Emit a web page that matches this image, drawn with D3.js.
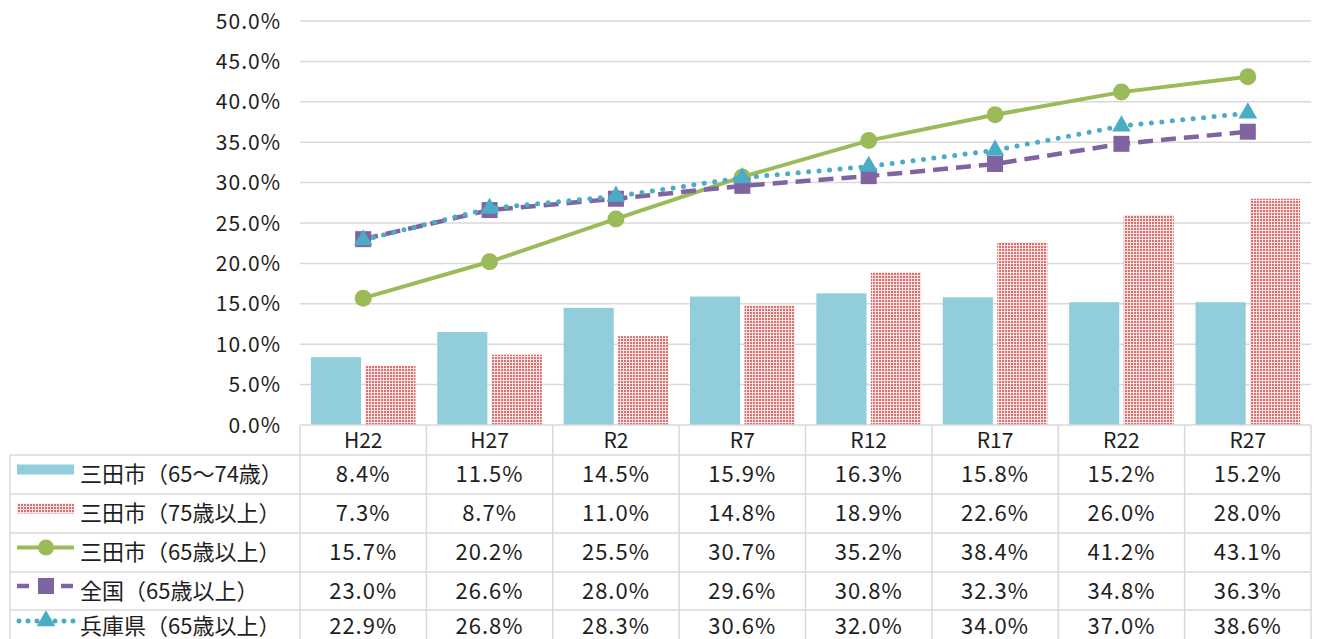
<!DOCTYPE html>
<html><head><meta charset="utf-8">
<script src="https://cdn.jsdelivr.net/npm/d3@7"></script>
<style>
html,body{margin:0;padding:0;background:#fff;}
text{font-family:"Noto Sans CJK JP","Noto Sans",sans-serif;fill:#1e1e1e;}
</style></head>
<body><svg id="c" width="1322" height="639"></svg>
<script>
const categories = ["H22","H27","R2","R7","R12","R17","R22","R27"];
const seriesNames = ["三田市（65～74歳）","三田市（75歳以上）","三田市（65歳以上）","全国（65歳以上）","兵庫県（65歳以上）"];
const sanda6574 = [8.4,11.5,14.5,15.9,16.3,15.8,15.2,15.2];
const sanda75 = [7.3,8.7,11.0,14.8,18.9,22.6,26.0,28.0];
const sanda65 = [15.7,20.2,25.5,30.7,35.2,38.4,41.2,43.1];
const zenkoku65 = [23.0,26.6,28.0,29.6,30.8,32.3,34.8,36.3];
const hyogo65 = [22.9,26.8,28.3,30.6,32.0,34.0,37.0,38.6];
const yTicks = [0,5,10,15,20,25,30,35,40,45,50];

const svg = d3.select("#c");
const L = 300, R = 1311, T = 21, B = 425;
const x = d3.scaleBand().domain(categories).range([L,R]);
const y = d3.scaleLinear().domain([0,50]).range([B,T]);
const xb = d3.scaleBand().domain([0,1]).range([0,x.bandwidth()]).paddingInner(0.08).paddingOuter(0.2);
const cx = c => x(c)+x.bandwidth()/2;

const defs = svg.append("defs");
const pat = defs.append("pattern").attr("id","dots").attr("patternUnits","userSpaceOnUse").attr("width",3).attr("height",3);
pat.append("rect").attr("width",3).attr("height",3).attr("fill","#f8e2e2");
pat.append("rect").attr("width",2).attr("height",2).attr("fill","#da7070");

// gridlines
svg.append("g").selectAll("line").data(yTicks.filter(d=>d>0)).join("line")
  .attr("x1",L).attr("x2",R).attr("y1",d=>y(d)).attr("y2",d=>y(d))
  .attr("stroke","#d9d9d9").attr("stroke-width",1.5);

// y axis labels
svg.append("g").selectAll("text").data(yTicks).join("text")
  .attr("x",281).attr("y",d=>y(d)).attr("dy","0.36em").attr("text-anchor","end")
  .attr("font-size",21).attr("letter-spacing",1).text(d=>d3.format(".1f")(d)+"%");

// bars
const colBlue = "#92cddc";
svg.append("g").selectAll("rect").data(categories).join("rect")
  .attr("x",(c)=>x(c)+xb(0)).attr("width",xb.bandwidth())
  .attr("y",(c,i)=>y(sanda6574[i])).attr("height",(c,i)=>B-y(sanda6574[i])).attr("fill",colBlue);
svg.append("g").selectAll("rect").data(categories).join("rect")
  .attr("x",(c)=>x(c)+xb(1)).attr("width",xb.bandwidth())
  .attr("y",(c,i)=>y(sanda75[i])).attr("height",(c,i)=>B-y(sanda75[i])).attr("fill","url(#dots)");

// lines
const line = d3.line().x((d,i)=>cx(categories[i])).y(d=>y(d));
const green="#9bbb59", purple="#8064a2", teal="#4bacc6";
svg.append("path").attr("d",line(sanda65)).attr("fill","none").attr("stroke",green).attr("stroke-width",4);
svg.append("g").selectAll("circle").data(sanda65).join("circle")
  .attr("cx",(d,i)=>cx(categories[i])).attr("cy",d=>y(d)).attr("r",8.5).attr("fill",green);

svg.append("path").attr("d",line(zenkoku65)).attr("fill","none").attr("stroke",purple).attr("stroke-width",4.5)
  .attr("stroke-dasharray","15,8");
svg.append("g").selectAll("rect").data(zenkoku65).join("rect")
  .attr("x",(d,i)=>cx(categories[i])-8).attr("y",d=>y(d)-8).attr("width",16).attr("height",16).attr("fill",purple);

svg.append("path").attr("d",line(hyogo65)).attr("fill","none").attr("stroke",teal).attr("stroke-width",5)
  .attr("stroke-linecap","round").attr("stroke-dasharray","0,10.5");
const tri = d3.symbol().type(d3.symbolTriangle).size(150);
svg.append("g").selectAll("path").data(hyogo65).join("path")
  .attr("transform",(d,i)=>`translate(${cx(categories[i])},${y(d)})`).attr("d",tri()).attr("fill",teal);

// table
const rowTop = [455,494,533,572,610,645];
const tg = svg.append("g");
const tl = "#d9d9d9";
tg.append("line").attr("x1",L).attr("x2",R).attr("y1",B).attr("y2",B).attr("stroke",tl).attr("stroke-width",1.5);
rowTop.slice(0,5).forEach(yy=>tg.append("line").attr("x1",10).attr("x2",R).attr("y1",yy).attr("y2",yy).attr("stroke",tl).attr("stroke-width",1.5));
tg.append("line").attr("x1",10).attr("x2",10).attr("y1",455).attr("y2",639).attr("stroke",tl).attr("stroke-width",1.5);
categories.forEach(c=>tg.append("line").attr("x1",x(c)).attr("x2",x(c)).attr("y1",B).attr("y2",639).attr("stroke",tl).attr("stroke-width",1.5));
tg.append("line").attr("x1",R).attr("x2",R).attr("y1",B).attr("y2",639).attr("stroke",tl).attr("stroke-width",1.5);

tg.selectAll("text.cat").data(categories).join("text").attr("class","cat")
  .attr("x",d=>cx(d)).attr("y",(B+455)/2).attr("dy","0.36em").attr("text-anchor","middle")
  .attr("font-size",21).text(d=>d);

const allSeries = [sanda6574,sanda75,sanda65,zenkoku65,hyogo65];
allSeries.forEach((s,r)=>{
  const yc = Math.min((rowTop[r]+rowTop[r+1])/2, 626);
  tg.append("g").selectAll("text").data(s).join("text")
    .attr("x",(d,i)=>cx(categories[i])).attr("y",yc).attr("dy","0.36em").attr("text-anchor","middle")
    .attr("font-size",22).attr("letter-spacing",1).text(d=>d3.format(".1f")(d)+"%");
  tg.append("text").attr("x",80).attr("y",yc).attr("dy","0.36em").attr("font-size",22).text(seriesNames[r]);
});
// legend keys
const ky = r => Math.min((rowTop[r]+rowTop[r+1])/2, 626) - 5;
tg.append("rect").attr("x",17).attr("y",ky(0)-5).attr("width",57).attr("height",10).attr("fill",colBlue);
tg.append("rect").attr("x",17).attr("y",ky(1)-5).attr("width",57).attr("height",10).attr("fill","url(#dots)");
tg.append("line").attr("x1",17).attr("x2",74).attr("y1",ky(2)).attr("y2",ky(2)).attr("stroke",green).attr("stroke-width",4);
tg.append("circle").attr("cx",46).attr("cy",ky(2)).attr("r",8).attr("fill",green);
tg.append("line").attr("x1",17).attr("x2",74).attr("y1",ky(3)).attr("y2",ky(3)).attr("stroke",purple).attr("stroke-width",4.5).attr("stroke-dasharray","12,10");
tg.append("rect").attr("x",38).attr("y",ky(3)-8).attr("width",16).attr("height",16).attr("fill",purple);
tg.append("line").attr("x1",19).attr("x2",74).attr("y1",ky(4)).attr("y2",ky(4)).attr("stroke",teal).attr("stroke-width",5).attr("stroke-linecap","round").attr("stroke-dasharray","0,9");
tg.append("path").attr("transform",`translate(46,${ky(4)})`).attr("d",tri()).attr("fill",teal);
</script></body></html>
